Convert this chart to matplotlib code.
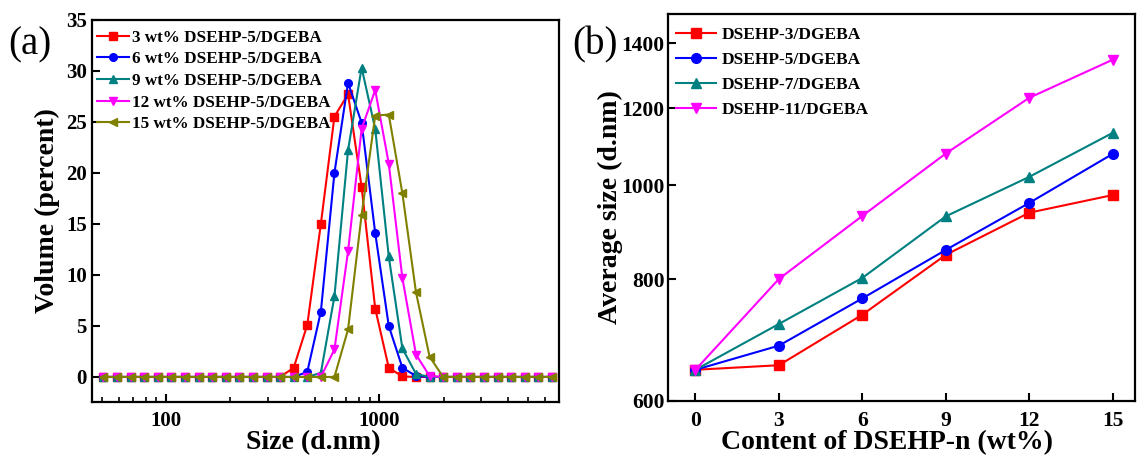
import matplotlib
matplotlib.use('Agg')
import matplotlib.pyplot as plt
from matplotlib.ticker import FixedLocator, NullLocator, LogLocator, NullFormatter, FixedFormatter

plt.rcParams['font.family'] = 'Liberation Serif'
plt.rcParams['font.weight'] = 'bold'

# (a) size distribution, Zetasizer size classes (d.nm)
size_bins = [50.75, 58.77, 68.06, 78.82, 91.28, 105.7, 122.4, 141.8, 164.2, 190.1,
             220.2, 255.0, 295.3, 342.0, 396.1, 458.7, 531.2, 615.1, 712.4, 825.0,
             955.4, 1106, 1281, 1484, 1718, 1990, 2305, 2669, 3091, 3580,
             4145, 4801, 5560, 6439]
vol_3wt = [0, 0, 0, 0, 0, 0, 0, 0, 0, 0, 0, 0, 0, 0, 0.9, 5.1, 15.0, 25.5, 27.7, 18.6,
           6.7, 0.9, 0.05, 0, 0, 0, 0, 0, 0, 0, 0, 0, 0, 0]
vol_6wt = [0, 0, 0, 0, 0, 0, 0, 0, 0, 0, 0, 0, 0, 0, 0, 0.5, 6.4, 20.0, 28.8, 24.9,
           14.1, 5.0, 0.9, 0.1, 0, 0, 0, 0, 0, 0, 0, 0, 0, 0]
vol_9wt = [0, 0, 0, 0, 0, 0, 0, 0, 0, 0, 0, 0, 0, 0, 0, 0, 0.4, 7.9, 22.2, 30.3,
           24.3, 11.8, 2.8, 0.3, 0, 0, 0, 0, 0, 0, 0, 0, 0, 0]
vol_12wt = [0, 0, 0, 0, 0, 0, 0, 0, 0, 0, 0, 0, 0, 0, 0, 0, 0, 2.7, 12.3, 24.3,
            28.1, 20.9, 9.7, 2.2, 0.1, 0, 0, 0, 0, 0, 0, 0, 0, 0]
vol_15wt = [0, 0, 0, 0, 0, 0, 0, 0, 0, 0, 0, 0, 0, 0, 0, 0, 0, 0, 4.65, 15.9,
            25.6, 25.7, 18.0, 8.3, 2.0, 0, 0, 0, 0, 0, 0, 0, 0, 0]
dist_labels = ['3 wt% DSEHP-5/DGEBA', '6 wt% DSEHP-5/DGEBA', '9 wt% DSEHP-5/DGEBA',
               '12 wt% DSEHP-5/DGEBA', '15 wt% DSEHP-5/DGEBA']

# (b) average size vs content
content = [0, 3, 6, 9, 12, 15]
avg_n3 = [646, 653, 736, 848, 937, 977]
avg_n5 = [646, 684, 765, 858, 959, 1077]
avg_n7 = [646, 720, 803, 929, 1020, 1132]
avg_n11 = [646, 801, 930, 1078, 1230, 1346]
avg_labels = ['DSEHP-3/DGEBA', 'DSEHP-5/DGEBA', 'DSEHP-7/DGEBA', 'DSEHP-11/DGEBA']

colors = ['#FF0000', '#0000FF', '#008080', '#FF00FF', '#808000']
markers = ['s', 'o', '^', 'v', '<']

fig = plt.figure(figsize=(11.37, 4.58), dpi=100)
ax1 = fig.add_axes([0.0812, 0.1212, 0.4105, 0.836])
ax2 = fig.add_axes([0.5872, 0.1245, 0.411, 0.845])

for ax in (ax1, ax2):
    for sp in ax.spines.values():
        sp.set_linewidth(1.6)

# panel (a)
for ys, c, m, lab in zip([vol_3wt, vol_6wt, vol_9wt, vol_12wt, vol_15wt], colors, markers, dist_labels):
    ax1.plot(size_bins, ys, color=c, marker=m, markersize=5.5, linewidth=1.5, label=lab)
ax1.set_xscale('log')
ax1.set_xlim(45, 6960)
ax1.set_ylim(-2.5, 35)
ax1.xaxis.set_major_locator(FixedLocator([100, 1000]))
ax1.xaxis.set_major_formatter(FixedFormatter(['100', '1000']))
ax1.xaxis.set_minor_locator(LogLocator(base=10, subs=range(2, 10)))
ax1.xaxis.set_minor_formatter(NullFormatter())
ax1.set_yticks([0, 5, 10, 15, 20, 25, 30, 35])
ax1.tick_params(axis='both', which='major', direction='in', length=6, width=1.5,
                labelsize=15, top=False, right=False)
ax1.tick_params(axis='x', which='minor', direction='in', length=3.5, width=1.2, top=False)
ax1.tick_params(axis='x', which='major', pad=6)
ax1.tick_params(axis='y', which='major', pad=4)
ax1.set_xlabel('Size (d.nm)', fontsize=20, fontweight='bold')
ax1.set_ylabel('Volume (percent)', fontsize=20, fontweight='bold')
ax1.xaxis.set_label_coords(0.473, -0.072)
ax1.yaxis.set_label_coords(-0.07, 0.5)
ax1.legend(loc='upper left', bbox_to_anchor=(0.0, 0.985), frameon=False,
           handlelength=1.9, handletextpad=0.2, labelspacing=0.33, borderpad=0.25,
           borderaxespad=0.0, prop={'weight': 'bold', 'size': 12.3})

# panel (b)
for ys, c, m, lab in zip([avg_n3, avg_n5, avg_n7, avg_n11], colors, markers, avg_labels):
    ax2.plot(content, ys, color=c, marker=m, markersize=7, linewidth=1.5, label=lab)
ax2.set_yscale('log')
ax2.set_ylim(600, 1500)
ax2.set_xlim(-1, 15.8)
ax2.yaxis.set_major_locator(FixedLocator([600, 800, 1000, 1200, 1400]))
ax2.yaxis.set_major_formatter(FixedFormatter(['600', '800', '1000', '1200', '1400']))
ax2.yaxis.set_minor_locator(NullLocator())
ax2.set_xticks(content)
ax2.tick_params(axis='both', which='major', direction='in', length=6, width=1.5,
                labelsize=15.5, top=False, right=False)
ax2.tick_params(axis='x', which='major', pad=7)
ax2.tick_params(axis='y', which='major', pad=2)
ax2.set_xlabel('Content of DSEHP-n (wt%)', fontsize=20, fontweight='bold')
ax2.set_ylabel('Average size (d.nm)', fontsize=20, fontweight='bold')
ax2.xaxis.set_label_coords(0.469, -0.076)
ax2.yaxis.set_label_coords(-0.096, 0.5)
ax2.legend(loc='upper left', bbox_to_anchor=(0.01, 0.975), frameon=False,
           handlelength=2.3, handletextpad=0.35, labelspacing=0.5, borderpad=0.2,
           borderaxespad=0.0, prop={'weight': 'bold', 'size': 12.5})

fig.text(30 / 1137, 1 - 45 / 458, '(a)', fontsize=28, fontweight='normal', ha='center', va='center')
fig.text(595 / 1137, 1 - 45 / 458, '(b)', fontsize=28, fontweight='normal', ha='center', va='center')

fig.savefig('out.png', dpi=100)
